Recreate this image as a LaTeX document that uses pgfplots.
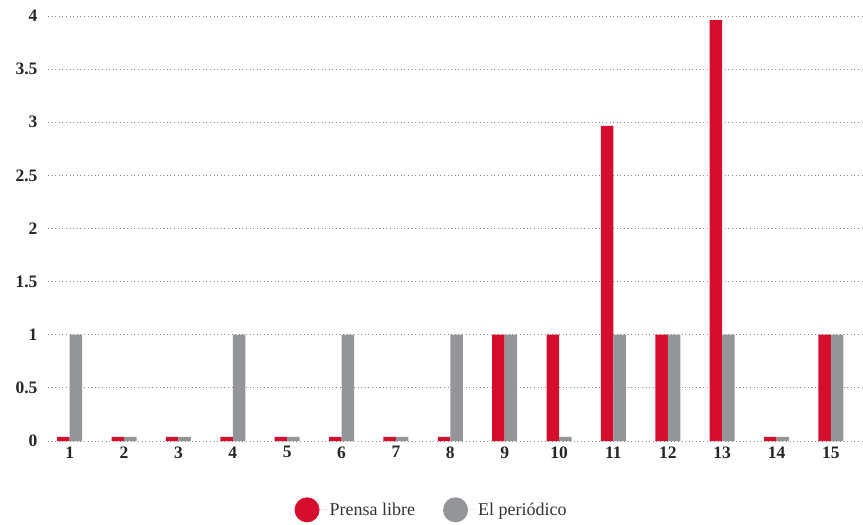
\documentclass[border=0pt]{standalone}
\usepackage{pgfplots}
\pgfplotsset{compat=1.18}
\usepackage{fontspec}
\setmainfont{Liberation Serif}
\definecolor{prensa}{HTML}{D50E2E}
\definecolor{perio}{HTML}{939598}
\definecolor{gridc}{HTML}{8A8A8A}
\begin{document}
\begin{tikzpicture}
\begin{axis}[
  at={(0pt,0pt)}, anchor=south west,
  scale only axis,
  width=815pt, height=425pt,
  ybar=0pt, bar width=12.5pt,
  xmin=0.6, xmax=15.59,
  ymin=0, ymax=4,
  xtick=data,
  ytick={0,0.5,1,1.5,2,2.5,3,3.5,4},
  axis line style={draw=none},
  tick style={draw=none},
  major tick length=0pt,
  ymajorgrids,
  grid style={gridc, line width=0.9pt, dash pattern=on 1pt off 2.6pt},
  /pgf/number format/assume math mode=true,
  ticklabel style={font=\bfseries\fontsize{17.5}{19}\selectfont, text=black!85},
  yticklabel style={xshift=-7pt},
  xticklabel style={yshift=-2pt},
  legend columns=2,
  legend style={draw=none, at={(0.4706,-0.162)}, anchor=center,
    font=\fontsize{18}{20}\selectfont, text=black!80,
    /tikz/every even column/.append style={column sep=26pt}},
]
\addplot+[fill=prensa, draw=none,
  legend image code/.code={\fill[prensa] (12.5pt,0pt) circle (12.5pt); \path (0pt,0pt) -- (33pt,0pt);}]
  coordinates {(1,0.04) (2,0.04) (3,0.04) (4,0.04) (5,0.04) (6,0.04) (7,0.04) (8,0.04)
  (9,1) (10,1) (11,2.965) (12,1) (13,3.96) (14,0.04) (15,1)};
\addlegendentry{Prensa libre}
\addplot+[fill=perio, draw=none,
  legend image code/.code={\fill[perio] (12.5pt,0pt) circle (12.5pt); \path (0pt,0pt) -- (33pt,0pt);}]
  coordinates {(1,1) (2,0.04) (3,0.04) (4,1) (5,0.04) (6,1) (7,0.04) (8,1)
  (9,1) (10,0.04) (11,1) (12,1) (13,1) (14,0.04) (15,1)};
\addlegendentry{El periódico}
\end{axis}
\pgfresetboundingbox
\useasboundingbox (-48pt,-84pt) rectangle (815pt,441pt);
\end{tikzpicture}
\end{document}
